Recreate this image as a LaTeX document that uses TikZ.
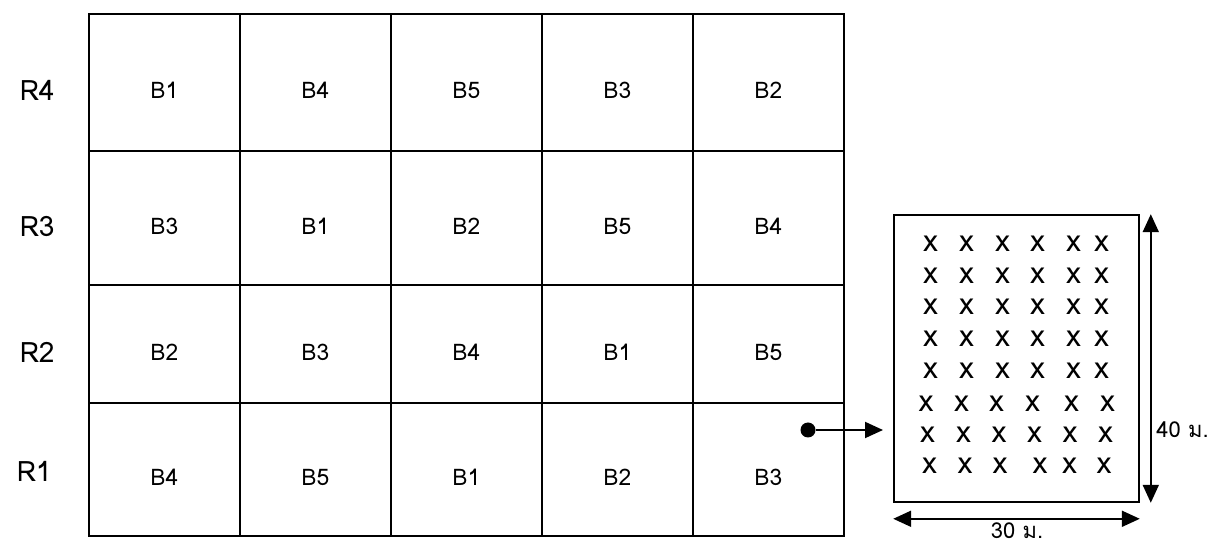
\documentclass[tikz,border=0pt]{standalone}
\usepackage{fontspec}
\setmainfont{Loma}
\newfontfamily\thaifont[Script=Thai]{Loma}
\usetikzlibrary{matrix,positioning,arrows.meta}

\begin{document}
\begin{tikzpicture}

\tikzset{block matrix/.style={
    matrix of nodes,
    line width=1.1pt, inner sep=0pt,
    column sep=-\pgflinewidth, row sep=-\pgflinewidth,
    nodes={draw,
      text width=#1,
      align=center,
      inner sep=0pt,
      text height=0.66cm, text depth=0pt,
      font=\fontsize{13}{15}\selectfont
    },
    row 1/.style={nodes={minimum height=2.74cm}},
    row 2/.style={nodes={minimum height=2.68cm}},
    row 3/.style={nodes={minimum height=2.36cm}},
    row 4/.style={nodes={minimum height=2.66cm}}
  },
  block matrix/.default=3.02cm,
  rowlab/.style={inner sep=0pt, text height=0.74cm, text depth=0pt,
    font=\fontsize{16}{18}\selectfont},
  plant/.style={inner sep=0pt, font=\fontsize{17}{19}\selectfont},
  dimlab/.style={inner sep=0pt, text depth=0pt, font=\fontsize{12.5}{14}\selectfont},
  tip/.style={line width=1.1pt},
  dimline/.style={tip, {Triangle[length=0.36cm,width=0.32cm]}-{Triangle[length=0.36cm,width=0.32cm]}}
}

\useasboundingbox (0,0) rectangle (24.56,10.94);

\matrix[block matrix, anchor=north west] (m) at (1.74,10.70)
{
B1 & B4 & B5 & B3 & B2 \\
B3 & B1 & B2 & B5 & B4 \\
B2 & B3 & B4 & B1 & B5 \\
B4 & B5 & B1 & B2 & B3 \\
};

% row labels
\node[rowlab, left=0.66cm of m-1-1] (r4) {R4};
\node[rowlab, left=0.66cm of m-2-1] (r3) {R3};
\node[rowlab, left=0.66cm of m-3-1] (r2) {R2};
\node[rowlab, left=0.72cm of m-4-1, yshift=0.12cm] (r1) {R1};

% plot
\node[draw, line width=0.9pt, minimum width=4.9cm, minimum height=5.74cm, inner sep=0pt] (plot) at (20.33,3.77) {};

\foreach \y [count=\j] in {6.07,5.43,4.80,4.17,3.53}
  \foreach \x [count=\i] in {18.61,19.33,20.05,20.75,21.47,22.03}
    \node[plant] (x\j\i) at (\x,\y) {x};
\foreach \x [count=\i] in {18.52,19.23,19.93,20.65,21.43,22.15}
  \node[plant] (x6\i) at (\x,2.86) {x};
\foreach \x [count=\i] in {18.55,19.27,19.98,20.69,21.40,22.11}
  \node[plant] (x7\i) at (\x,2.24) {x};
\foreach \x [count=\i] in {18.59,19.30,20.00,20.80,21.39,22.08}
  \node[plant] (x8\i) at (\x,1.62) {x};

% pointer
\node[circle, fill, inner sep=0pt, minimum size=0.3cm] (dot) at (16.16,2.34) {};
\coordinate (dottip) at (17.66,2.34);
\draw[tip, -{Triangle[length=0.36cm,width=0.32cm]}] (dot) -- (dottip);

% dimensions
\coordinate[right=0.22cm of plot.north east] (vtop);
\coordinate[right=0.22cm of plot.south east] (vbot);
\coordinate[below=0.32cm of plot.south west] (hleft);
\coordinate[below=0.32cm of plot.south east] (hright);
\draw[dimline] (vtop) -- (vbot);
\draw[dimline] (hleft) -- (hright);
\node[dimlab, anchor=base west] (len) at (23.12,2.18) {\thaifont 40 ม.};
\node[dimlab, anchor=base] (wid) at (20.34,0.16) {\thaifont 30 ม.};

\end{tikzpicture}
\end{document}
